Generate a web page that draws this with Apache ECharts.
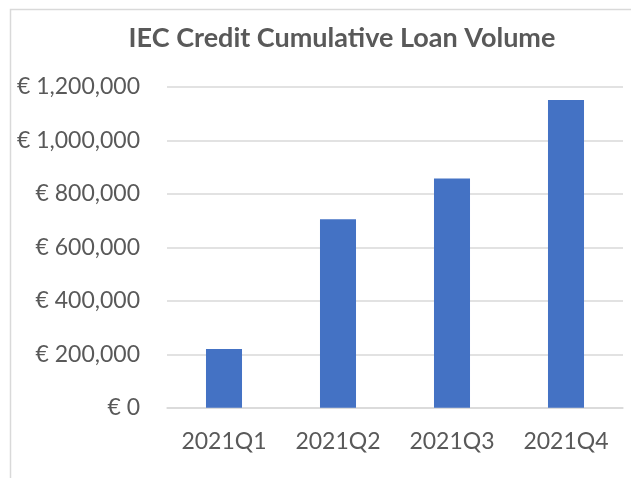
<!DOCTYPE html>
<html>
<head>
<meta charset="utf-8">
<script src="https://cdn.jsdelivr.net/npm/echarts@6/dist/echarts.min.js"></script>
<style>html,body{margin:0;padding:0;background:#fff;}#c{width:631px;height:478px;}</style>
</head>
<body>
<div id="c"></div>
<script>
const titleText = 'IEC Credit Cumulative Loan Volume';
const categories = ['2021Q1', '2021Q2', '2021Q3', '2021Q4'];
const loanVolume = [220000, 705000, 858000, 1151000];
const yTicks = [0, 200000, 400000, 600000, 800000, 1000000, 1200000];

const chart = echarts.init(document.getElementById('c'), null, {renderer: 'canvas'});
chart.setOption({
  animation: false,
  backgroundColor: '#fff',
  title: {
    text: titleText,
    left: 337, top: 20, textAlign: 'center',
    textStyle: {fontFamily: 'Lato', fontWeight: 'bold', fontSize: 27, color: '#595959'}
  },
  graphic: [{
    type: 'rect', silent: true,
    shape: {x: 10.5, y: 9.5, width: 700, height: 600},
    style: {fill: 'none', stroke: '#d9d9d9', lineWidth: 1.5}
  }],
  grid: {left: 167, right: 8, top: 87, bottom: 70.3, containLabel: false},
  xAxis: {
    type: 'category',
    data: categories,
    axisLine: {show: true, lineStyle: {color: '#d9d9d9', width: 1.5}},
    axisTick: {show: false},
    axisLabel: {fontFamily: 'Lato', fontSize: 23, color: '#595959', margin: 22}
  },
  yAxis: {
    type: 'value',
    min: yTicks[0], max: yTicks[yTicks.length - 1], interval: 200000,
    axisLine: {show: false},
    axisTick: {show: false},
    splitLine: {lineStyle: {color: '#d9d9d9', width: 1.5}},
    axisLabel: {
      fontFamily: 'Lato', fontSize: 23, color: '#595959', margin: 27,
      formatter: v => '€ ' + v.toLocaleString('en-US')
    }
  },
  series: [{
    type: 'bar',
    data: loanVolume,
    barWidth: '31.6%',
    itemStyle: {color: '#4472C4'}
  }]
});
</script>
</body>
</html>
